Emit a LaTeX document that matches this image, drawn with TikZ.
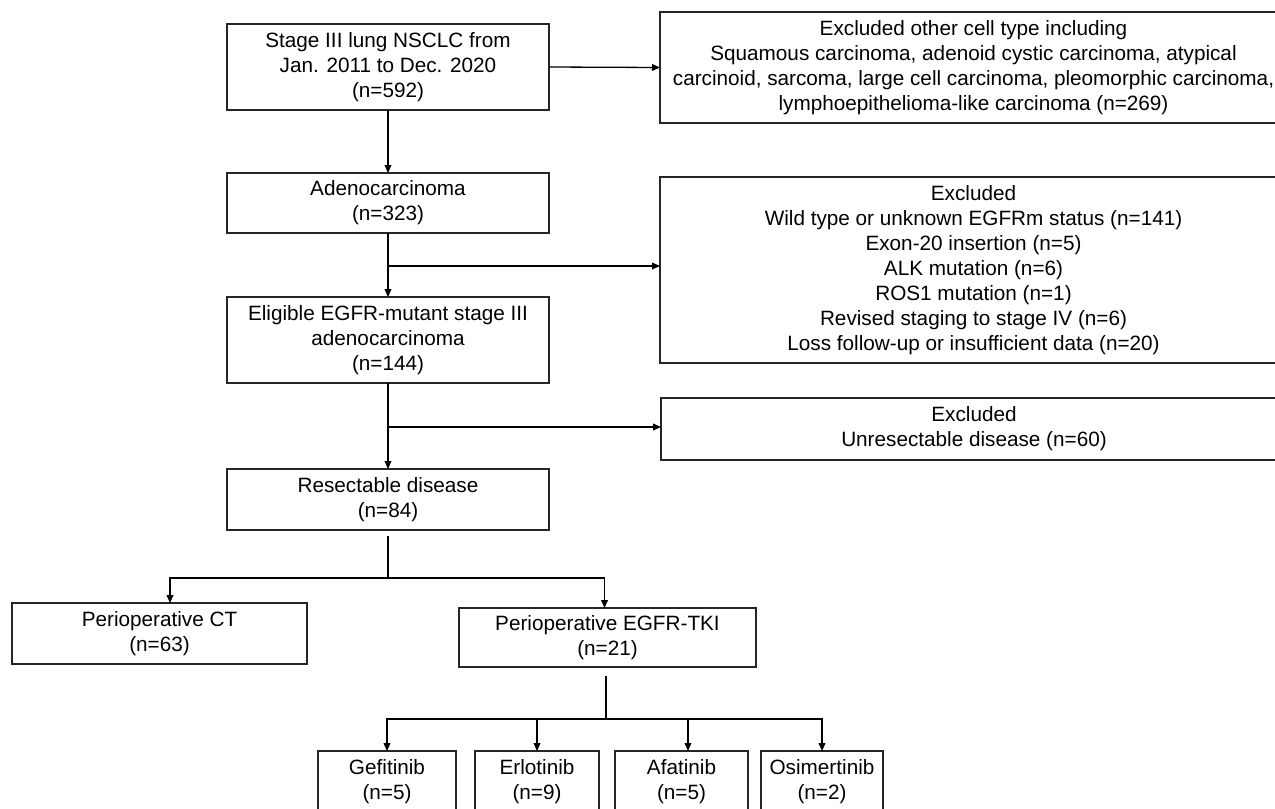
\documentclass[tikz,border=0pt]{standalone}
\usepackage{fontspec}
\setmainfont{Liberation Sans}
\usetikzlibrary{arrows.meta}

\begin{document}
\begin{tikzpicture}[x=0.5bp, y=-0.5bp,
  box/.style={draw=black!85, line width=0.75bp, inner sep=0pt, outer sep=0pt,
    align=center, font=\fontsize{10.4}{12.5}\selectfont},
  arr/.style={-{Triangle[length=4bp,width=3.4bp]}, line width=0.65bp}]
  \useasboundingbox (0,0) rectangle (1275,808);
  % Main column
  \node[box, minimum width=161bp, minimum height=43bp] (stage) at (388,67)
    {Stage III lung NSCLC from\\Jan. 2011 to Dec. 2020\\(n=592)};
  \node[box, minimum width=161bp, minimum height=30bp] (adeno) at (388,203)
    {Adenocarcinoma\\(n=323)};
  \node[box, minimum width=161bp, minimum height=43bp] (elig) at (388,340)
    {Eligible EGFR-mutant stage III\\adenocarcinoma\\(n=144)};
  \node[box, minimum width=161bp, minimum height=30.5bp] (resect) at (388,499.5)
    {Resectable disease\\(n=84)};
  % Exclusions
  \node[box, minimum width=313.5bp, minimum height=55.5bp] (excA) at (973.5,67.5)
    {Excluded other cell type including\\Squamous carcinoma, adenoid cystic carcinoma, atypical\\carcinoid, sarcoma, large cell carcinoma, pleomorphic carcinoma,\\lymphoepithelioma-like carcinoma (n=269)};
  \node[box, minimum width=313.5bp, minimum height=93bp] (excB) at (973.5,270)
    {Excluded\\Wild type or unknown EGFRm status (n=141)\\Exon-20 insertion (n=5)\\ALK mutation (n=6)\\ROS1 mutation (n=1)\\Revised staging to stage IV (n=6)\\Loss follow-up or insufficient data (n=20)};
  \node[box, minimum width=313bp, minimum height=31bp] (excC) at (974,429)
    {Excluded\\Unresectable disease (n=60)};
  % Treatment arms
  \node[box, minimum width=147.5bp, minimum height=30.5bp] (ct) at (159.5,633.5)
    {Perioperative CT\\(n=63)};
  \node[box, minimum width=148.5bp, minimum height=29.5bp] (tki) at (607.5,637.5)
    {Perioperative EGFR-TKI\\(n=21)};
  % TKI agents
  \node[box, minimum width=69bp, minimum height=31bp] (gef) at (387,782) {Gefitinib\\(n=5)};
  \node[box, minimum width=62bp, minimum height=31bp] (erl) at (537,782) {Erlotinib\\(n=9)};
  \node[box, minimum width=66.5bp, minimum height=31bp] (afa) at (681.5,782) {Afatinib\\(n=5)};
  \node[box, minimum width=61bp, minimum height=31bp] (osi) at (822,782) {Osimertinib\\(n=2)};
  % Branch points
  \coordinate (b1) at (388,266);
  \coordinate (b2) at (388,427);
  \coordinate (r1) at (388,536);
  \coordinate (r2) at (388,578);
  \coordinate (t1) at (606,676);
  \coordinate (t2) at (606,719);
  % Flow
  \draw[arr] (stage.east) -- (excA.west);
  \draw[arr] (stage.south) -- (adeno.north);
  \draw[arr] (adeno.south) -- (elig.north);
  \draw[arr] (b1) -- (b1 -| excB.west);
  \draw[arr] (elig.south) -- (resect.north);
  \draw[arr] (b2) -- (b2 -| excC.west);
  \draw[line width=0.65bp] (r1) -- (r2);
  \draw[arr] (r2) -| ([xshift=5.25bp]ct.north);
  \draw[arr] (r2) -| ([xshift=-1.5bp]tki.north);
  \draw[line width=0.65bp] (t1) -- (t2);
  \draw[arr] (t2) -| (gef.north);
  \draw[arr] (t2) -| (erl.north);
  \draw[arr] (t2) -| ([xshift=3.25bp]afa.north);
  \draw[arr] (t2) -| (osi.north);
\end{tikzpicture}
\end{document}
